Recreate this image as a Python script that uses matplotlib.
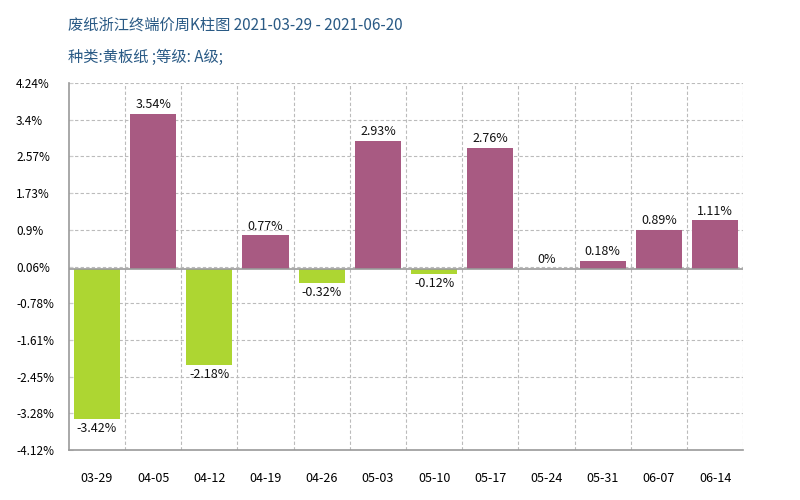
import numpy as np
import matplotlib
matplotlib.use("Agg")
import matplotlib.pyplot as plt

plt.rcParams['font.family'] = ['Noto Sans CJK SC', 'DejaVu Sans']

weeks = ["03-29", "04-05", "04-12", "04-19", "04-26", "05-03",
         "05-10", "05-17", "05-24", "05-31", "06-07", "06-14"]
changes = [-3.42, 3.54, -2.18, 0.77, -0.32, 2.93, -0.12, 2.76, 0, 0.18, 0.89, 1.11]
ytick_labels = ["-4.12%", "-3.28%", "-2.45%", "-1.61%", "-0.78%", "0.06%",
                "0.9%", "1.73%", "2.57%", "3.4%", "4.24%"]
y_min, y_max = -4.12, 4.24

title = "废纸浙江终端价周K柱图 2021-03-29 - 2021-06-20"
subtitle = "种类:黄板纸 ;等级: A级;"

up_color = "#a85a82"
down_color = "#add632"
grid_color = "#bbbbbb"

fig = plt.figure(figsize=(8, 5), dpi=100)
ax = fig.add_axes([0.086, 0.1, 0.843, 0.734])

x = np.arange(len(weeks))
colors = [up_color if v >= 0 else down_color for v in changes]
ax.bar(x, changes, width=0.82, color=colors, zorder=3)

for xi, v in zip(x, changes):
    lbl = "0%" if v == 0 else f"{v:g}%"
    if v >= 0:
        ax.annotate(lbl, (xi, v), xytext=(0, 2), textcoords="offset points",
                    ha="center", va="bottom", fontsize=9, color="#111111")
    else:
        ax.annotate(lbl, (xi, v), xytext=(0, -2), textcoords="offset points",
                    ha="center", va="top", fontsize=9, color="#111111")

ax.set_xlim(-0.5, len(weeks) - 0.5)
ax.set_ylim(y_min, y_max)
ax.set_yticks(np.linspace(y_min, y_max, len(ytick_labels)))
ax.set_yticklabels(ytick_labels, fontsize=8.5, ha="left")
ax.set_xticks(x)
ax.set_xticklabels(weeks, fontsize=9)

# grid: dashed lines at y ticks and between categories
for yv in np.linspace(y_min, y_max, len(ytick_labels))[1:]:
    ax.axhline(yv, color=grid_color, ls=(0, (3, 2)), lw=0.8, zorder=1)
for xb in np.arange(0.5, len(weeks), 1):
    ax.axvline(xb, color=grid_color, ls=(0, (3, 2)), lw=0.8, zorder=1)
ax.axhline(0, color="#999999", lw=1.2, zorder=4)

for side in ["top", "right"]:
    ax.spines[side].set_visible(False)
for side in ["left", "bottom"]:
    ax.spines[side].set_color("#999999")
    ax.spines[side].set_linewidth(1.2)

ax.tick_params(axis="y", direction="in", length=3, color="#cccccc", pad=38)
ax.tick_params(axis="x", length=0, pad=16)

fig.text(0.085, 0.95, title, fontsize=11, color="#2a5a85", va="center")
fig.text(0.085, 0.886, subtitle, fontsize=11, color="#2a5a85", va="center")

fig.savefig("out.png", dpi=100)
